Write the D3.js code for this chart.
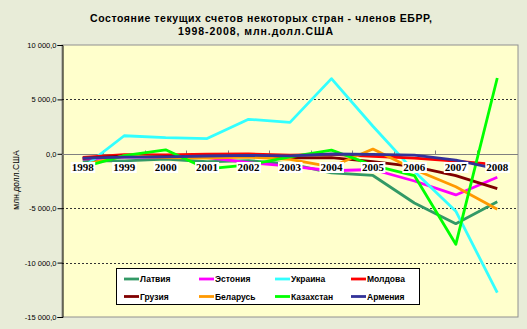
<!DOCTYPE html>
<html>
<head>
<meta charset="utf-8">
<script src="https://cdn.jsdelivr.net/npm/d3@7"></script>
<style>
  html, body { margin: 0; padding: 0; background: #e8ecd8; }
  svg { display: block; }
</style>
</head>
<body>
<svg id="chart" width="527" height="329"></svg>
<script>
// Current account balances, mln USD
const years = ["1998","1999","2000","2001","2002","2003","2004","2005","2006","2007","2008"];
const latvia     = [-650, -654, -494, -732, -626, -921, -1762, -1992, -4522, -6425, -4400];
const estonia    = [-478, -295, -294, -339, -817, -1125, -1558, -1445, -2500, -3780, -2160];
const ukraine    = [-1296, 1658, 1481, 1402, 3173, 2891, 6909, 2531, -1617, -5272, -12763];
const moldova    = [-335, -79, -98, -24, -13, -130, -47, -226, -391, -672, -1000];
const georgia    = [-416, -198, -269, -212, -221, -383, -350, -710, -1175, -2009, -3200];
const belarus    = [-1017, -194, -338, -394, -311, -505, -1193, 436, -1448, -3032, -5100];
const kazakhstan = [-1225, -171, 366, -1390, -1024, -273, 335, -1056, -1999, -8322, 6966];
const armenia    = [-390, -307, -278, -200, -148, -189, -20, -52, -117, -589, -1382];

const seriesNames  = ["Латвия","Эстония","Украина","Молдова","Грузия","Беларусь","Казахстан","Армения"];
const seriesValues = [latvia, estonia, ukraine, moldova, georgia, belarus, kazakhstan, armenia];
const seriesColors = ["#339966","#ff00ff","#33ffff","#ff0000","#800000","#ff9900","#00ff00","#333399"];
const yTicks = [-15000, -10000, -5000, 0, 5000, 10000];

const titleLines = ["Состояние текущих счетов некоторых стран - членов ЕБРР,", "1998-2008, млн.долл.США"];
const yAxisTitle = "млн.долл.США";

const svg = d3.select("#chart");
const W = 527, H = 329;
const plot = { left: 62, right: 518, top: 45, bottom: 317 };

svg.append("rect").attr("width", W).attr("height", H).attr("fill", "#e8ecd8");

const x = d3.scalePoint().domain(years).range([plot.left, plot.right]).padding(0.5);
const step = x.step();
const y = d3.scaleLinear().domain([-15000, 10000]).range([plot.bottom, plot.top]);

const ru = d3.formatLocale({ decimal: ",", thousands: " ", grouping: [3], currency: ["", ""], minus: "-" });
const fmt = ru.format(",.1f");

// plot area
svg.append("rect")
  .attr("x", plot.left).attr("y", plot.top)
  .attr("width", plot.right - plot.left).attr("height", plot.bottom - plot.top)
  .attr("fill", "#ffffcc").attr("stroke", "#909090").attr("stroke-width", 1);

// dashed gridlines
svg.append("g").selectAll("line")
  .data(yTicks.filter(v => v !== 0 && v !== 10000 && v !== -15000))
  .join("line")
  .attr("x1", plot.left).attr("x2", plot.right)
  .attr("y1", d => Math.round(y(d)) + 0.5).attr("y2", d => Math.round(y(d)) + 0.5)
  .attr("stroke", "#333").attr("stroke-dasharray", "2,2");

// value axis
const yAxis = d3.axisLeft(y).tickValues(yTicks).tickSize(5).tickFormat(fmt);
const gy = svg.append("g").attr("transform", `translate(${plot.left + 0.5},0)`).call(yAxis);
gy.select(".domain").attr("stroke", "#000");
gy.selectAll(".tick line").attr("stroke", "#000");
gy.selectAll(".tick text").attr("font-family", "Arial, 'Liberation Sans', sans-serif")
  .attr("font-size", "7.5px").attr("fill", "#000").attr("x", -6);

// category axis crossing at zero
const y0 = Math.round(y(0)) + 0.5;
svg.append("line").attr("x1", plot.left).attr("x2", plot.right)
  .attr("y1", y0).attr("y2", y0).attr("stroke", "#808080");
svg.append("g").selectAll("line")
  .data(years.slice(1))
  .join("line")
  .attr("x1", d => Math.round(x(d) - step / 2) + 0.5)
  .attr("x2", d => Math.round(x(d) - step / 2) + 0.5)
  .attr("y1", y0 - 4).attr("y2", y0)
  .attr("stroke", "#808080");

// series lines
const line = d3.line().x((d, i) => x(years[i])).y(d => y(d));
svg.append("g").selectAll("path")
  .data(seriesValues)
  .join("path")
  .attr("d", d => line(d))
  .attr("fill", "none")
  .attr("stroke", (d, i) => seriesColors[i])
  .attr("stroke-width", 2.8)
  .attr("stroke-linejoin", "round");

// category labels on white boxes
const labG = svg.append("g");
years.forEach(yr => {
  const t = labG.append("text")
    .attr("x", x(yr)).attr("y", y0 + 16)
    .attr("text-anchor", "middle")
    .attr("font-family", "'Times New Roman', 'Liberation Serif', serif")
    .attr("font-weight", "bold").attr("font-size", "11px")
    .attr("fill", "#000").text(yr);
  const bb = t.node().getBBox();
  labG.insert("rect", () => t.node())
    .attr("x", bb.x - 1).attr("y", y0 + 7.5)
    .attr("width", bb.width + 2).attr("height", 11)
    .attr("fill", "#fff");
});

// title
const titleX = [90, 178];
const titleW = [342, 155];
titleLines.forEach((s, i) => {
  svg.append("text")
    .attr("x", titleX[i]).attr("y", 21.5 + i * 13.5)
    .attr("font-family", "Arial, 'Liberation Sans', sans-serif")
    .attr("font-weight", "bold").attr("font-size", "10.5px")
    .attr("textLength", titleW[i]).attr("lengthAdjust", "spacing")
    .attr("fill", "#000").text(s);
});

// value axis title
svg.append("text")
  .attr("transform", `translate(18.5,180) rotate(-90)`)
  .attr("text-anchor", "middle")
  .attr("font-family", "Arial, 'Liberation Sans', sans-serif")
  .attr("font-size", "8.5px").attr("fill", "#000")
  .text(yAxisTitle);

// legend
const lg = svg.append("g");
lg.append("rect").attr("x", 116.5).attr("y", 268.5).attr("width", 303).attr("height", 36)
  .attr("fill", "#fff").attr("stroke", "#000");
const colX = [124, 199, 275, 351];
const rowY = [279, 296.5];
seriesNames.forEach((name, i) => {
  const cx = colX[i % 4], cy = rowY[Math.floor(i / 4)];
  lg.append("line").attr("x1", cx).attr("x2", cx + 15).attr("y1", cy).attr("y2", cy)
    .attr("stroke", seriesColors[i]).attr("stroke-width", 2.8);
  lg.append("text").attr("x", cx + 16).attr("y", cy + 3)
    .attr("font-family", "Arial, 'Liberation Sans', sans-serif")
    .attr("font-weight", "bold").attr("font-size", "8.5px")
    .attr("fill", "#000").text(name);
});
</script>
</body>
</html>
